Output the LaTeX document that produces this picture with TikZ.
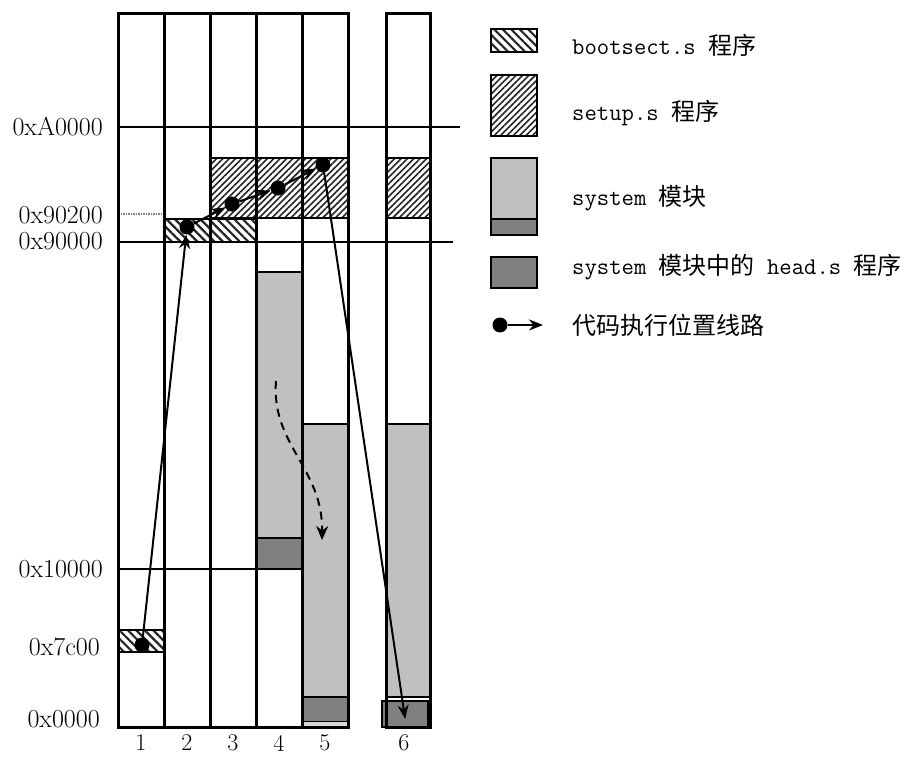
\documentclass[tikz,border=0pt]{standalone}
\usepackage{fontspec}
\newfontfamily\cjk{Noto Sans CJK SC}
\usetikzlibrary{patterns.meta,arrows.meta}
\definecolor{sysgray}{HTML}{C0C0C0}
\definecolor{headgray}{HTML}{808080}
\tikzset{
  colline/.style={line width=3pt},
  addr/.style={line width=2pt},
  bootfill/.style={pattern={Lines[angle=-45,distance=6pt,line width=2.2pt]}, pattern color=black!85, draw, line width=1.2pt},
  setupfill/.style={pattern={Lines[angle=45,distance=4.5pt,line width=1.6pt]}, pattern color=black!85, draw, line width=1.2pt},
  sysfill/.style={fill=sysgray, draw, line width=1.5pt},
  headfill/.style={fill=headgray, draw, line width=1.5pt},
  dot/.style={circle, fill=black, inner sep=0pt, minimum size=15pt},
  flow/.style={line width=2pt, -{Stealth[length=14pt,width=11pt]}},
  lbl/.style={font=\fontsize{26}{30}\selectfont, inner sep=0pt},
  colnum/.style={font=\fontsize{24}{28}\selectfont, inner sep=0pt},
  leg/.style={font=\fontsize{24}{28}\selectfont, inner sep=0pt, anchor=west},
}
\begin{document}
\begin{tikzpicture}[x=1pt,y=-1pt]
\useasboundingbox (0,0) rectangle (907,757);
% fills
\fill[white] (118,14) rectangle (348,727);
\fill[white] (386,14) rectangle (430,727);
\draw[bootfill] (118,630) rectangle (164,652);
\draw[bootfill] (164,219) rectangle (256,242);
\draw[setupfill] (210,158) rectangle (348,218);
\draw[setupfill] (386,158) rectangle (430,218);
\draw[sysfill] (256,272) rectangle (302,538);
\draw[headfill] (256,538) rectangle (302,569);
\draw[sysfill] (302,424) rectangle (348,697);
\draw[headfill] (302,697) rectangle (348,722);
\fill[sysgray!60] (302,722) rectangle (348,727);
\draw[sysfill] (386,424) rectangle (430,697);
\draw[headfill] (382,701) rectangle (428,727);
% 0x90200 dotted marker
\draw[gray, densely dotted, line width=1.5pt] (118,214) -- (164,214);
% address lines
\draw[addr] (118,127) -- (460,127);
\draw[addr] (118,242) -- (453,242);
\draw[addr] (118,569) -- (302,569);
% column frames
\draw[colline] (118,14) rectangle (348,727);
\foreach \x in {164,210,256,302} \draw[colline] (\x,14) -- (\x,727);
\draw[colline] (386,14) rectangle (430,727);
% address labels
\node[lbl, anchor=east] (a1) at (103,127) {0xA0000};
\node[lbl, anchor=east] (a2) at (103,215) {0x90200};
\node[lbl, anchor=east] (a3) at (103,241) {0x90000};
\node[lbl, anchor=east] (a4) at (103,569) {0x10000};
\node[lbl, anchor=east] (a5) at (100,647) {0x7c00};
\node[lbl, anchor=east] (a6) at (100,719) {0x0000};
% column numbers
\node[colnum] (n1) at (141,743) {1};
\node[colnum] (n2) at (187,743) {2};
\node[colnum] (n3) at (233,743) {3};
\node[colnum] (n4) at (279,743) {4};
\node[colnum] (n5) at (325,743) {5};
\node[colnum] (n6) at (404,743) {6};
% execution path
\node[dot] (d1) at (142,645) {};
\node[dot] (d2) at (187,227) {};
\node[dot] (d3) at (232,204) {};
\node[dot] (d4) at (278,188) {};
\node[dot] (d5) at (323,165) {};
\coordinate (d6) at (405,718);
\draw[flow] (d1) -- (d2);
\draw[flow] (d2) -- (d3);
\draw[flow] (d3) -- (d4);
\draw[flow] (d4) -- (d5);
\draw[flow, shorten >=-1pt] (d5) -- (d6);
% dashed move arrow
\coordinate (m1) at (276,381);
\coordinate (m2) at (322,540);
\draw[line width=2pt, dash pattern=on 8pt off 6pt, -{Stealth[length=14pt,width=12pt]}] (m1) .. controls (271,445) and (323,468) .. (m2);
% legend
\draw[bootfill] (491,29) rectangle (537,52);
\draw[setupfill] (491,75) rectangle (537,136);
\draw[sysfill] (491,158) rectangle (537,219);
\draw[headfill] (491,219) rectangle (537,235);
\draw[headfill] (491,257) rectangle (537,288);
\node[dot] (ld) at (500,325) {};
\coordinate (la) at (543,325);
\draw[flow] (ld) -- (la);
\node[leg] (t1) at (572,45) {\ttfamily bootsect.s \cjk 程序};
\node[leg] (t2) at (572,113) {\ttfamily setup.s \cjk 程序};
\node[leg] (t3) at (572,198) {\ttfamily system \cjk 模块};
\node[leg] (t4) at (572,267) {\ttfamily system \cjk 模块中的\ttfamily\ head.s \cjk 程序};
\node[leg] (t5) at (572,325) {\cjk 代码执行位置线路};
\end{tikzpicture}
\end{document}
